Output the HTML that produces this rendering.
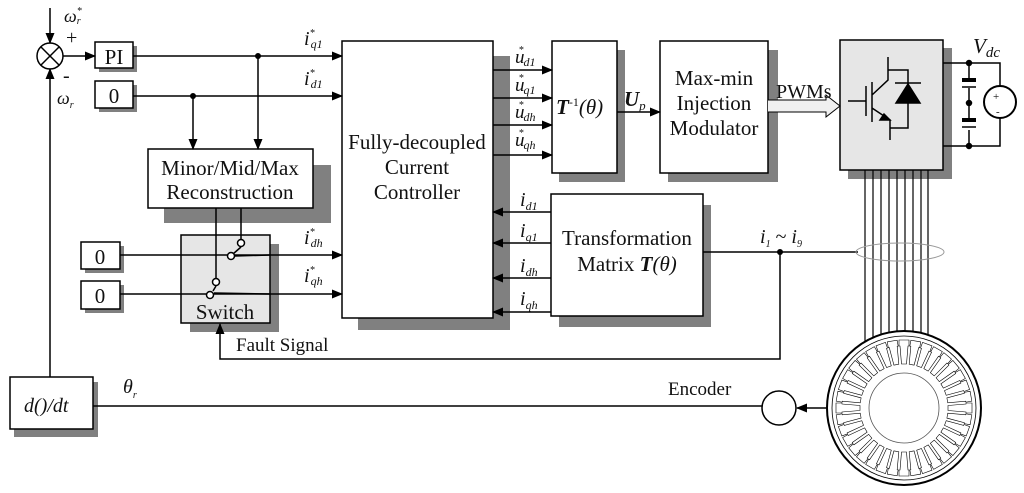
<!DOCTYPE html>
<html><head><meta charset="utf-8"><style>
html,body{margin:0;padding:0;background:#fff;}
svg{display:block;}
text{font-family:"Liberation Serif",serif;fill:#111;}
.i{font-style:italic;}
</style></head><body>
<svg width="1024" height="493" viewBox="0 0 1024 493" xmlns="http://www.w3.org/2000/svg">
<defs>
<marker id="a" markerWidth="11" markerHeight="9" refX="10" refY="4.5" orient="auto" markerUnits="userSpaceOnUse"><path d="M0,0 L11,4.5 L0,9 z" fill="#000"/></marker>
<path id="slot" d="M-2.5,-44 L-4,-62 L-5,-62 L-5,-68 L5,-68 L5,-62 L4,-62 L2.5,-44 Z" fill="none" stroke="#000" stroke-width="0.6"/>
</defs>
<g stroke="#000" stroke-width="1.5" fill="none">
<g fill="#808080" stroke="none">
<rect x="99" y="46" width="38" height="26"/>
<rect x="99" y="85" width="38" height="27"/>
<rect x="164" y="165" width="167" height="58"/>
<rect x="358" y="56" width="152" height="274"/>
<rect x="85" y="246" width="39" height="27"/>
<rect x="85" y="285" width="39" height="28"/>
<rect x="190" y="244" width="89" height="88"/>
<rect x="559" y="50" width="66" height="132"/>
<rect x="668" y="50" width="110" height="132"/>
<rect x="559" y="205" width="152" height="122"/>
<rect x="848" y="48" width="104" height="131"/>
<rect x="14" y="382" width="84" height="55"/>
</g>
<rect x="95" y="42" width="38" height="26" fill="#fff"/>
<rect x="95" y="81" width="38" height="27" fill="#fff"/>
<rect x="148" y="149" width="165" height="59" fill="#fff"/>
<rect x="342" y="41" width="151" height="277" fill="#fff"/>
<rect x="81" y="242" width="39" height="27" fill="#fff"/>
<rect x="81" y="281" width="39" height="28" fill="#fff"/>
<rect x="181" y="235" width="89" height="88" fill="#e6e6e6"/>
<rect x="552" y="41" width="65" height="132" fill="#fff"/>
<rect x="660" y="41" width="108" height="132" fill="#fff"/>
<rect x="551" y="194" width="152" height="122" fill="#fff"/>
<rect x="840" y="40" width="103" height="130" fill="#e6e6e6"/>
<rect x="10" y="377" width="83" height="52" fill="#fff"/>
<circle cx="50" cy="56" r="13" fill="#fff"/>
<path d="M41,47 L59,65 M59,47 L41,65"/>
<path d="M50,8 L50,43" marker-end="url(#a)"/>
<path d="M50,377 L50,69" marker-end="url(#a)"/>
<path d="M63,56 L95,56" marker-end="url(#a)"/>
<path d="M133,56 L342,56" marker-end="url(#a)"/>
<path d="M133,96 L342,96" marker-end="url(#a)"/>
<path d="M258,56 L258,149" marker-end="url(#a)"/>
<path d="M193,96 L193,149" marker-end="url(#a)"/>
<path d="M120,255 L342,255" marker-end="url(#a)"/>
<path d="M120,294 L342,294" marker-end="url(#a)"/>
<path d="M216,208 L216,278 M241,208 L241,240"/>
<path d="M233,254 L241,247 M213,291 L216,286 M235,256 L270,255"/>
<path d="M214,293 L270,294"/>
<circle cx="241" cy="243" r="3.5" fill="#fff"/>
<circle cx="231" cy="256" r="3.5" fill="#fff"/>
<circle cx="216" cy="282" r="3.5" fill="#fff"/>
<circle cx="210" cy="295" r="3.5" fill="#fff"/>
<path d="M780,252 L780,359 L220,359 L220,324" marker-end="url(#a)"/>
<path d="M493,70 L552,70" marker-end="url(#a)"/>
<path d="M493,98 L552,98" marker-end="url(#a)"/>
<path d="M493,125 L552,125" marker-end="url(#a)"/>
<path d="M493,155 L552,155" marker-end="url(#a)"/>
<path d="M617,112 L660,112" marker-end="url(#a)"/>
<path d="M551,212 L493,212" marker-end="url(#a)"/>
<path d="M551,243 L493,243" marker-end="url(#a)"/>
<path d="M551,278 L493,278" marker-end="url(#a)"/>
<path d="M551,312 L493,312" marker-end="url(#a)"/>
<path d="M703,252 L858,252"/>
<path d="M768,100 L826,100 L826,95 L840,106 L826,117 L826,112 L768,112" fill="#f0f0f0" stroke-width="1"/>
<path d="M848,101 L866,101 M866,86 L866,116 M872,82 L872,122 M872,95 L888,80 L888,57 M872,108 L890,120 L890,140"/>
<path d="M890,120 L884,114 L880,120 z" fill="#000"/>
<path d="M888,70 L908,70 L908,128 L890,128 M895,83 L921,83"/>
<path d="M896,103 L920,103 L908,84 z" fill="#000"/>
<path d="M943,63 L1000,63 L1000,86 M1000,118 L1000,146 L943,146 M969,63 L969,78 M969,88 L969,120 M969,130 L969,146"/>
<rect x="962" y="78" width="14" height="4" fill="#000" stroke="none"/>
<path d="M962,87 L976,87 M962,127 L976,127"/>
<rect x="962" y="118" width="14" height="4" fill="#000" stroke="none"/>
<circle cx="969" cy="63" r="2.5" fill="#000"/><circle cx="969" cy="103" r="2.5" fill="#000"/><circle cx="969" cy="146" r="2.5" fill="#000"/>
<circle cx="1000" cy="102" r="16" fill="#fff" stroke-width="2"/>
<g stroke-width="1.2">
<path d="M865,170 L865,342 M873,170 L873,340 M881,170 L881,338 M889,170 L889,336 M897,170 L897,335 M905,170 L905,335 M913,170 L913,336 M921,170 L921,338 M928,170 L928,340"/>
</g>
<ellipse cx="900" cy="252" rx="44" ry="9" stroke="#999" stroke-width="1"/>
<circle cx="904" cy="408" r="77" fill="#fff" stroke-width="2"/>
<circle cx="904" cy="408" r="72" stroke-width="0.8"/>
<g transform="translate(904,408)">
<use href="#slot" transform="rotate(0)"/><use href="#slot" transform="rotate(10)"/><use href="#slot" transform="rotate(20)"/><use href="#slot" transform="rotate(30)"/><use href="#slot" transform="rotate(40)"/><use href="#slot" transform="rotate(50)"/><use href="#slot" transform="rotate(60)"/><use href="#slot" transform="rotate(70)"/><use href="#slot" transform="rotate(80)"/><use href="#slot" transform="rotate(90)"/><use href="#slot" transform="rotate(100)"/><use href="#slot" transform="rotate(110)"/><use href="#slot" transform="rotate(120)"/><use href="#slot" transform="rotate(130)"/><use href="#slot" transform="rotate(140)"/><use href="#slot" transform="rotate(150)"/><use href="#slot" transform="rotate(160)"/><use href="#slot" transform="rotate(170)"/><use href="#slot" transform="rotate(180)"/><use href="#slot" transform="rotate(190)"/><use href="#slot" transform="rotate(200)"/><use href="#slot" transform="rotate(210)"/><use href="#slot" transform="rotate(220)"/><use href="#slot" transform="rotate(230)"/><use href="#slot" transform="rotate(240)"/><use href="#slot" transform="rotate(250)"/><use href="#slot" transform="rotate(260)"/><use href="#slot" transform="rotate(270)"/><use href="#slot" transform="rotate(280)"/><use href="#slot" transform="rotate(290)"/><use href="#slot" transform="rotate(300)"/><use href="#slot" transform="rotate(310)"/><use href="#slot" transform="rotate(320)"/><use href="#slot" transform="rotate(330)"/><use href="#slot" transform="rotate(340)"/><use href="#slot" transform="rotate(350)"/>
</g>
<circle cx="904" cy="408" r="35" stroke-width="0.8" stroke="#555"/>
<path d="M826,408 L797,408" marker-end="url(#a)"/>
<circle cx="779" cy="408" r="17" fill="#fff"/>
<path d="M762,406 L93,406"/>
</g>
<g fill="#000">
<circle cx="258" cy="56" r="3"/><circle cx="193" cy="96" r="3"/><circle cx="780" cy="252" r="3"/>
</g>
<text x="114" y="64" font-size="21" text-anchor="middle">PI</text>
<text x="114" y="103" font-size="21" text-anchor="middle">0</text>
<text x="100" y="264" font-size="21" text-anchor="middle">0</text>
<text x="100" y="303" font-size="21" text-anchor="middle">0</text>
<text x="230" y="175" font-size="21" text-anchor="middle">Minor/Mid/Max</text>
<text x="230" y="199" font-size="21" text-anchor="middle">Reconstruction</text>
<text x="225" y="319" font-size="21" text-anchor="middle">Switch</text>
<text x="236" y="351" font-size="19">Fault Signal</text>
<text x="417" y="149" font-size="21" text-anchor="middle">Fully-decoupled</text>
<text x="417" y="174" font-size="21" text-anchor="middle">Current</text>
<text x="417" y="199" font-size="21" text-anchor="middle">Controller</text>
<text x="714" y="85" font-size="21" text-anchor="middle">Max-min</text>
<text x="714" y="110" font-size="21" text-anchor="middle">Injection</text>
<text x="714" y="135" font-size="21" text-anchor="middle">Modulator</text>
<text x="627" y="245" font-size="21" text-anchor="middle">Transformation</text>
<text x="627" y="271" font-size="21" text-anchor="middle">Matrix <tspan font-weight="bold" font-style="italic">T</tspan><tspan font-style="italic">(θ)</tspan></text>
<text x="556" y="114" font-size="21" font-style="italic"><tspan font-weight="bold">T</tspan><tspan font-size="12" dy="-8" font-style="normal">-1</tspan><tspan dy="8">(θ)</tspan></text>
<text x="624" y="106" font-size="21" class="i" font-weight="bold">U<tspan font-size="13" dy="4" font-weight="normal">p</tspan></text>
<text x="776" y="98" font-size="20">PWMs</text>
<text x="973" y="53" font-size="21" class="i">V<tspan font-size="15" dy="4">dc</tspan></text>
<text x="993" y="100" font-size="11">+</text><text x="996" y="115" font-size="11">-</text>
<text x="668" y="395" font-size="19">Encoder</text>
<text x="24" y="412" font-size="20" class="i">d()/dt</text>
<text x="123" y="393" font-size="20" class="i">θ<tspan font-size="10" dy="5">r</tspan></text>
<text x="64" y="22" font-size="18" class="i">ω<tspan font-size="10" dy="-8">*</tspan><tspan font-size="10" dy="10" dx="-5">r</tspan></text>
<text x="66" y="44" font-size="20">+</text>
<text x="63" y="82" font-size="20">-</text>
<text x="57" y="104" font-size="18" class="i">ω<tspan font-size="10" dy="4">r</tspan></text>
<text x="304" y="45" font-size="20" class="i">i<tspan font-size="10" dy="-9">*</tspan><tspan font-size="12" dy="12" dx="-4">q1</tspan></text>
<text x="304" y="85" font-size="20" class="i">i<tspan font-size="10" dy="-9">*</tspan><tspan font-size="12" dy="12" dx="-4">d1</tspan></text>
<text x="304" y="244" font-size="20" class="i">i<tspan font-size="10" dy="-9">*</tspan><tspan font-size="12" dy="12" dx="-4">dh</tspan></text>
<text x="304" y="282" font-size="20" class="i">i<tspan font-size="10" dy="-9">*</tspan><tspan font-size="12" dy="12" dx="-4">qh</tspan></text>
<text x="515" y="63" font-size="19" class="i">u<tspan font-size="10" dy="-10" dx="-6">*</tspan><tspan font-size="12" dy="13">d1</tspan></text>
<text x="515" y="91" font-size="19" class="i">u<tspan font-size="10" dy="-10" dx="-6">*</tspan><tspan font-size="12" dy="13">q1</tspan></text>
<text x="515" y="118" font-size="19" class="i">u<tspan font-size="10" dy="-10" dx="-6">*</tspan><tspan font-size="12" dy="13">dh</tspan></text>
<text x="515" y="146" font-size="19" class="i">u<tspan font-size="10" dy="-10" dx="-6">*</tspan><tspan font-size="12" dy="13">qh</tspan></text>
<text x="520" y="206" font-size="20" class="i">i<tspan font-size="12" dy="4">d1</tspan></text>
<text x="520" y="237" font-size="20" class="i">i<tspan font-size="12" dy="4">q1</tspan></text>
<text x="520" y="272" font-size="20" class="i">i<tspan font-size="12" dy="4">dh</tspan></text>
<text x="520" y="305" font-size="20" class="i">i<tspan font-size="12" dy="4">qh</tspan></text>
<text x="760" y="243" font-size="20" class="i">i<tspan font-size="10" dy="4">1</tspan><tspan dy="-4" font-style="normal"> ~ </tspan>i<tspan font-size="10" dy="4">9</tspan></text>
</svg>
</body></html>
